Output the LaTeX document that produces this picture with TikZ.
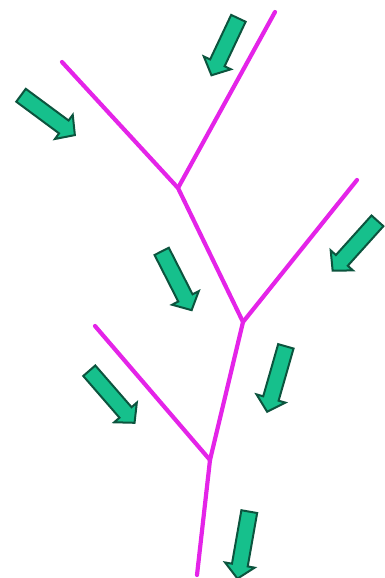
\documentclass[tikz,border=0pt]{standalone}
\usetikzlibrary{shapes.arrows}
\definecolor{branch}{RGB}{228,36,232}
\definecolor{arrowfill}{RGB}{22,192,140}
\definecolor{arrowline}{RGB}{12,84,62}
\begin{document}
\begin{tikzpicture}[x=1pt,y=-1pt,
  branchline/.style={draw=branch,line width=4.2pt,line cap=round,line join=round},
  flowarrow/.style={single arrow,draw=arrowline,fill=arrowfill,line width=2pt,
    single arrow head extend=7pt,inner xsep=0pt,inner ysep=7pt,
    single arrow tip angle=95}]
\useasboundingbox (0,0) rectangle (385,578);
\coordinate (tr) at (275,12);
\coordinate (tl) at (62,62);
\coordinate (j1) at (178,188);
\coordinate (rr) at (357,180);
\coordinate (j2) at (243,322);
\coordinate (ll) at (95,326);
\coordinate (j3) at (210,460);
\coordinate (bot) at (197,575);
\draw[branchline] (tr) -- (j1);
\draw[branchline] (tl) -- (j1) -- (j2);
\draw[branchline] (rr) -- (j2) -- (j3) -- (bot);
\draw[branchline] (ll) -- (j3);
\node[flowarrow,minimum height=63pt,rotate=-115.3] (a1) at (226.5,43.5) {};
\node[flowarrow,minimum height=67pt,rotate=-36.5] (a2) at (45,113) {};
\node[flowarrow,minimum height=67pt,rotate=-132] (a3) at (357.5,243) {};
\node[flowarrow,minimum height=66pt,rotate=-63] (a4) at (175,277.5) {};
\node[flowarrow,minimum height=68pt,rotate=-106] (a5) at (277.5,375.5) {};
\node[flowarrow,minimum height=69pt,rotate=-49] (a6) at (109.5,394) {};
\node[flowarrow,minimum height=68pt,rotate=-100] (a7) at (244,541.5) {};
\end{tikzpicture}
\end{document}
